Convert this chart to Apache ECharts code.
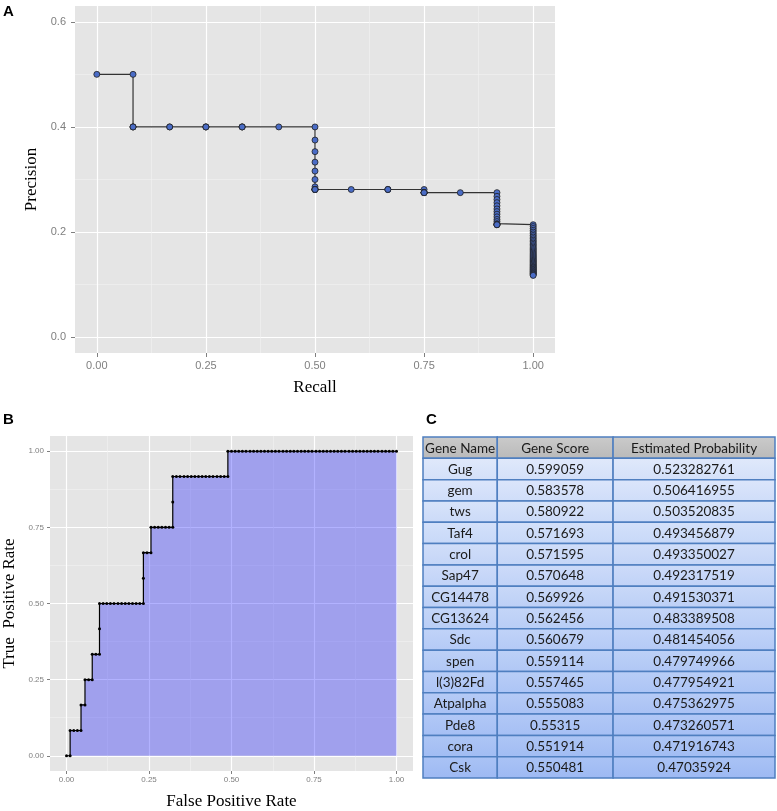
<!DOCTYPE html>
<html>
<head>
<meta charset="utf-8">
<script src="https://cdn.jsdelivr.net/npm/echarts@6/dist/echarts.min.js"></script>
<style>
html,body{margin:0;padding:0;background:#fff;}
#chart{width:777px;height:811px;}
</style>
</head>
<body>
<div id="chart"></div>
<script>
// ---------- Panel A: precision-recall ----------
const prRecall = [
  0,
  0.083,0.083,0.083,0.083,
  0.167,0.167,
  0.25,0.25,0.25,
  0.333,0.333,0.333,
  0.417,
  0.5,0.5,0.5,0.5,0.5,0.5,0.5,0.5,0.5,0.5,0.5,0.5,0.5,
  0.583,
  0.667,0.667,0.667,
  0.75,0.75,0.75,0.75,0.75,0.75,0.75,
  0.833,
  0.917,0.917,0.917,0.917,0.917,0.917,0.917,0.917,0.917,0.917,0.917,0.917,0.917,0.917,0.917,0.917,
  1,1,1,1,1,1,1,1,1,1,1,1,1,1,1,1,1,1,1,1,1,1,1,1,1,1,1,1,1,1,1,1,1,1,1,1,1,1,1,1,1,1,1,1,1,1,1
];
const prPrecision = [
  0.5,0.5,
  0.4,0.4,0.4,
  0.4,0.4,0.4,0.4,0.4,0.4,0.4,0.4,0.4,0.4,
  0.375,0.353,0.333,0.316,0.3,0.286,
  0.281,0.281,0.281,0.281,0.281,0.281,
  0.281,0.281,0.281,0.281,0.281,
  0.275,0.275,0.275,0.275,0.275,0.275,0.275,
  0.275,
  0.268,0.262,0.256,0.25,0.244,0.239,0.234,0.229,0.224,0.22,0.216,
  0.214,0.214,0.214,0.214,0.214,
  0.2105,0.2069,0.2034,0.2,0.1967,0.1935,0.1905,0.1875,0.1846,0.1818,
  0.1791,0.1765,0.1739,0.1714,0.169,0.1667,0.1644,0.1622,0.16,0.1579,
  0.1558,0.1538,0.1519,0.15,0.1481,0.1463,0.1446,0.1429,0.1412,0.1395,
  0.1379,0.1364,0.1348,0.1333,0.1319,0.1304,0.129,0.1277,0.1263,0.125,
  0.1237,0.1224,0.1212,0.12,0.1188,0.1176
];
const prXTicks = [0, 0.25, 0.5, 0.75, 1];
const prXMinor = [0.125, 0.375, 0.625, 0.875];
const prYTicks = [0, 0.2, 0.4, 0.6];
const prYMinor = [0.1, 0.3, 0.5];

// ---------- Panel B: ROC ----------
const rocFpr = [
  0.000,0.011,0.011,0.022,0.033,0.044,0.044,0.056,0.056,0.067,0.078,0.078,0.089,0.100,0.100,0.100,
  0.111,0.122,0.133,0.144,0.156,0.167,0.178,0.189,0.200,0.211,0.222,0.233,
  0.233,0.233,
  0.244,0.256,
  0.256,
  0.267,0.278,0.289,0.300,0.311,0.322,
  0.322,0.322,
  0.333,0.344,0.356,0.367,0.378,0.389,0.400,0.411,0.422,0.433,0.444,0.456,0.467,0.478,0.489,
  0.489,
  0.500,0.511,0.522,0.533,0.544,0.556,0.567,0.578,0.589,0.600,0.611,0.622,0.633,0.644,0.656,0.667,
  0.678,0.689,0.700,0.711,0.722,0.733,0.744,0.756,0.767,0.778,0.789,0.800,0.811,0.822,0.833,0.844,
  0.856,0.867,0.878,0.889,0.900,0.911,0.922,0.933,0.944,0.956,0.967,0.978,0.989,1.000
];
const rocTpr = [
  0,0,
  0.083,0.083,0.083,0.083,
  0.167,0.167,
  0.25,0.25,0.25,
  0.333,0.333,0.333,
  0.417,
  0.5,0.5,0.5,0.5,0.5,0.5,0.5,0.5,0.5,0.5,0.5,0.5,0.5,
  0.583,
  0.667,0.667,0.667,
  0.75,0.75,0.75,0.75,0.75,0.75,0.75,
  0.833,
  0.917,0.917,0.917,0.917,0.917,0.917,0.917,0.917,0.917,0.917,0.917,0.917,0.917,0.917,0.917,0.917,
  1,1,1,1,1,1,1,1,1,1,1,1,1,1,1,1,1,1,1,1,1,1,1,1,1,1,1,1,1,1,1,1,1,1,1,1,1,1,1,1,1,1,1,1,1,1,1
];
const rocTicks = [0, 0.25, 0.5, 0.75, 1];
const rocMinor = [0.125, 0.375, 0.625, 0.875];

// ---------- Panel C: table ----------
const tableHeader = ['Gene Name', 'Gene Score', 'Estimated Probability'];
const geneNames = ['Gug','gem','tws','Taf4','crol','Sap47','CG14478','CG13624','Sdc','spen','l(3)82Fd','Atpalpha','Pde8','cora','Csk'];
const geneScores = ['0.599059','0.583578','0.580922','0.571693','0.571595','0.570648','0.569926','0.562456','0.560679','0.559114','0.557465','0.555083','0.55315','0.551914','0.550481'];
const geneProbs = ['0.523282761','0.506416955','0.503520835','0.493456879','0.493350027','0.492317519','0.491530371','0.483389508','0.481454056','0.479749966','0.477954921','0.475362975','0.473260571','0.471916743','0.47035924'];

// ---------- build ----------
const SANS = '"Liberation Sans", Arial, sans-serif';
const SERIF = '"Liberation Serif", "Times New Roman", serif';
const TABLEFONT = 'Lato, "Open Sans", sans-serif';
const tickGrey = '#7f7f7f';

function mainAxis(gridIndex, min, max, ticks, fmt, fontSize, tickLen, margin, name, nameGap, isY) {
  return {
    type: 'value', gridIndex, min, max,
    axisLine: { show: false, onZero: false },
    axisTick: { show: true, length: tickLen, customValues: ticks, lineStyle: { color: tickGrey, width: 1 } },
    axisLabel: { show: true, customValues: ticks, formatter: v => v.toFixed(fmt), color: tickGrey,
                 fontSize, fontFamily: SANS, margin },
    splitLine: { show: true, lineStyle: { color: '#ffffff', width: 1.2 } },
    name, nameLocation: 'middle', nameGap, nameRotate: isY ? 90 : 0,
    nameTextStyle: { fontFamily: SERIF, fontSize: 17, color: '#000' }
  };
}
function minorAxis(gridIndex, min, max, ticks) {
  return {
    type: 'value', gridIndex, min, max,
    axisLine: { show: false, onZero: false },
    axisTick: { show: false, customValues: ticks },
    axisLabel: { show: false, customValues: ticks },
    splitLine: { show: true, lineStyle: { color: '#f2f2f2', width: 0.6 } }
  };
}

const prData = prRecall.map((r, i) => [r, prPrecision[i]]);
const rocData = rocFpr.map((f, i) => [f, rocTpr[i]]);
const tableRows = [tableHeader].concat(geneNames.map((g, i) => [g, geneScores[i], geneProbs[i]]));
const colEdges = [0, 0.211, 0.540, 1];

function mix(a, b, t) {
  const pa = [1,3,5].map(k => parseInt(a.substr(k,2),16));
  const pb = [1,3,5].map(k => parseInt(b.substr(k,2),16));
  return 'rgb(' + pa.map((v, j) => Math.round(v + (pb[j]-v)*t)).join(',') + ')';
}

const chart = echarts.init(document.getElementById('chart'), null, { renderer: 'canvas' });
chart.setOption({
  animation: false,
  backgroundColor: '#ffffff',
  title: [
    { text: 'A', left: 3, top: 4, padding: 0, textStyle: { fontFamily: SANS, fontSize: 15, fontWeight: 'bold', color: '#000' } },
    { text: 'B', left: 3, top: 412, padding: 0, textStyle: { fontFamily: SANS, fontSize: 15, fontWeight: 'bold', color: '#000' } },
    { text: 'C', left: 426, top: 412, padding: 0, textStyle: { fontFamily: SANS, fontSize: 15, fontWeight: 'bold', color: '#000' } }
  ],
  grid: [
    { left: 75, top: 6, width: 480, height: 347, show: true, backgroundColor: '#e5e5e5', borderWidth: 0 },
    { left: 47, top: 436, width: 366, height: 337, show: true, backgroundColor: '#e5e5e5', borderWidth: 0 },
    { left: 423, top: 437, width: 352, height: 341, show: false }
  ],
  xAxis: [
    mainAxis(0, -0.05, 1.05, prXTicks, 2, 11, 4, 7, 'Recall', 26, false),
    minorAxis(0, -0.05, 1.05, prXMinor),
    mainAxis(1, -0.05, 1.05, rocTicks, 2, 8, 3, 5, 'False Positive Rate', 22, false),
    minorAxis(1, -0.05, 1.05, rocMinor),
    { type: 'value', gridIndex: 2, min: 0, max: 1, show: false }
  ],
  yAxis: [
    mainAxis(0, -0.03, 0.63, prYTicks, 1, 11, 4, 9, 'Precision', 27, true),
    minorAxis(0, -0.03, 0.63, prYMinor),
    mainAxis(1, -0.05, 1.05, rocTicks, 2, 8, 3, 6, 'True  Positive Rate', 32, true),
    minorAxis(1, -0.05, 1.05, rocMinor),
    { type: 'category', gridIndex: 2, data: tableRows.map(r => r[0]), inverse: true, show: false }
  ],
  series: [
    {
      type: 'line', xAxisIndex: 0, yAxisIndex: 0, data: prData,
      symbol: 'circle', symbolSize: 6, showSymbol: true,
      lineStyle: { color: '#333333', width: 1.2 },
      itemStyle: { color: '#4a6cc6', borderColor: '#1f1f1f', borderWidth: 0.8 },
      z: 3
    },
    {
      type: 'line', xAxisIndex: 2, yAxisIndex: 2, data: rocData,
      symbol: 'circle', symbolSize: 3, showSymbol: true,
      lineStyle: { color: '#000000', width: 1.2 },
      itemStyle: { color: '#000000' },
      areaStyle: { color: 'rgba(0,0,255,0.3)', opacity: 1 },
      z: 3
    },
    {
      type: 'custom', xAxisIndex: 4, yAxisIndex: 4,
      data: tableRows.map((r, i) => [0, i]),
      encode: { x: 0, y: 1 },
      renderItem: function (params, api) {
        const i = params.dataIndex;
        const rowH = api.size([0, 1])[1];
        const cy = api.coord([0, i])[1];
        const y0 = cy - rowH / 2;
        const t = (i - 1) / 14;
        const top = i === 0 ? '#cbcbcb' : mix('#e0e9fb', '#aac3f5', t);
        const bot = i === 0 ? '#b9b9b9' : mix('#d3e0f9', '#9db9f3', t);
        const children = [];
        for (let c = 0; c < 3; c++) {
          const x0 = api.coord([colEdges[c], i])[0];
          const x1 = api.coord([colEdges[c + 1], i])[0];
          children.push({
            type: 'rect',
            shape: { x: x0, y: y0, width: x1 - x0, height: rowH },
            style: {
              fill: new echarts.graphic.LinearGradient(0, 0, 0, 1, [
                { offset: 0, color: top }, { offset: 1, color: bot }
              ]),
              stroke: '#4f7fc0', lineWidth: 1.5
            }
          });
          children.push({
            type: 'text',
            style: {
              text: tableRows[i][c], x: (x0 + x1) / 2, y: cy + 0.5,
              align: 'center', verticalAlign: 'middle',
              fontFamily: TABLEFONT, fontSize: 13.5, fill: '#1a1a1a'
            },
            z2: 10
          });
        }
        return { type: 'group', children };
      },
      z: 3
    }
  ]
});
</script>
</body>
</html>
